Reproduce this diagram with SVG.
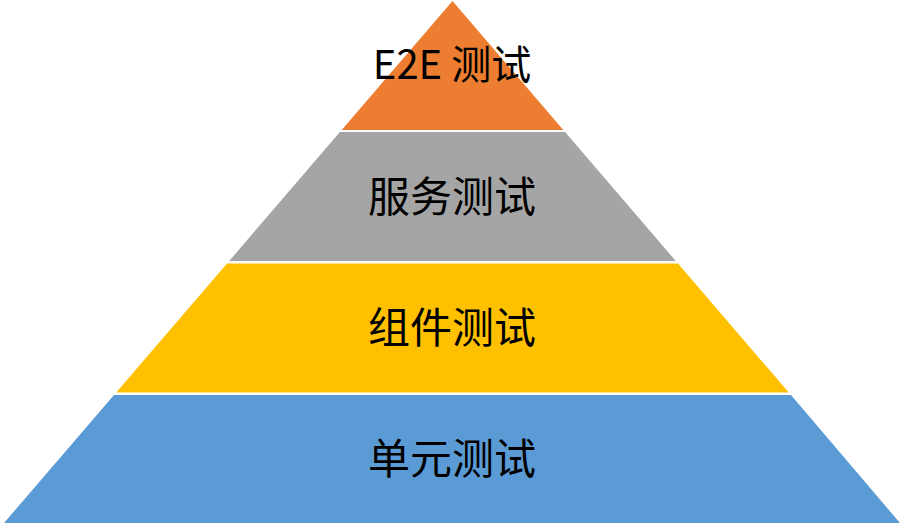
<svg xmlns="http://www.w3.org/2000/svg" width="904" height="525" viewBox="0 0 904 525">
<style>
.lbl{font-family:"Noto Sans CJK SC","Noto Sans",sans-serif;font-size:42px;fill:#000;text-anchor:middle}
.top{font-size:40px}
</style>
<rect width="904" height="525" fill="#fff"/>
<g id="e2e">
<polygon points="452.5,1 563.3,130 341.7,130" fill="#ED7D31"/>
<text class="lbl top" x="452" y="79">E2E 测试</text>
</g>
<g id="service">
<polygon points="339.9,132 565.1,132 675.8,261 229.2,261" fill="#A5A5A5"/>
<text class="lbl" x="452" y="212">服务测试</text>
</g>
<g id="component">
<polygon points="227,263.5 678,263.5 788.8,392.5 116.2,392.5" fill="#FFC000"/>
<text class="lbl" x="452" y="343">组件测试</text>
</g>
<g id="unit">
<polygon points="114,395 791,395 900,523 4,523" fill="#5B9BD5"/>
<text class="lbl" x="452" y="474">单元测试</text>
</g>
<g id="connectors"></g>
</svg>
